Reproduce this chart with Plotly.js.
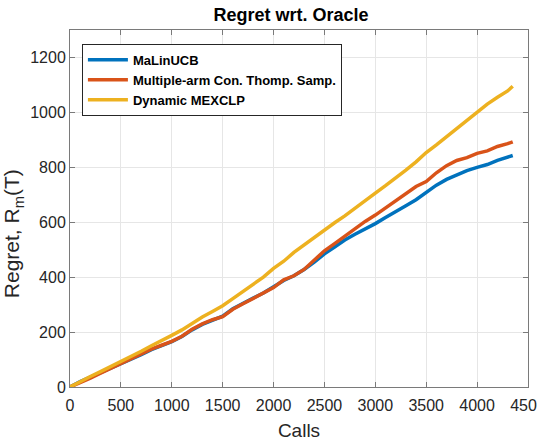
<!DOCTYPE html>
<html>
<head>
<meta charset="utf-8">
<script src="https://cdn.plot.ly/plotly-3.0.1.min.js"></script>
<style>
  html, body { margin: 0; padding: 0; background: #fff; }
  #chart { width: 537px; height: 441px; }
</style>
</head>
<body>
<div id="chart"></div>
<script>
// Number of calls at which cumulative regret was recorded
const calls = [0, 100, 200, 300, 400, 500, 600, 700, 800, 900, 1000, 1100, 1200, 1300, 1400,
  1500, 1600, 1700, 1800, 1900, 2000, 2100, 2200, 2300, 2400, 2500, 2600, 2700, 2800, 2900,
  3000, 3100, 3200, 3300, 3400, 3500, 3600, 3700, 3800, 3900, 4000, 4100, 4200, 4300, 4350];

// Cumulative regret of each policy against the oracle
const regretMaLinUCB = [0, 20, 36, 52, 68, 85, 102, 118, 136, 150, 165, 184, 208, 228, 244,
  258, 285, 306, 324, 342, 364, 388, 405, 428, 455, 485, 510, 535, 556, 575,
  595, 617, 640, 660, 682, 709, 735, 756, 772, 788, 800, 810, 825, 835, 843];

const regretThompson = [0, 15, 32, 50, 68, 87, 104, 120, 138, 152, 166, 185, 210, 230, 245,
  256, 283, 303, 322, 340, 362, 390, 405, 428, 460, 496, 522, 550, 578, 603,
  626, 652, 680, 703, 730, 748, 780, 806, 825, 835, 851, 860, 876, 886, 893];

const regretMexclp = [0, 20, 38, 56, 74, 94, 110, 130, 150, 168, 188, 208, 232, 255, 275,
  296, 322, 348, 374, 400, 432, 458, 490, 518, 545, 572, 598, 623, 652, 680,
  706, 733, 760, 790, 820, 854, 882, 912, 940, 970, 1004, 1030, 1055, 1078, 1095];

const seriesNames = ['MaLinUCB', 'Multiple-arm Con. Thomp. Samp.', 'Dynamic MEXCLP'];
const seriesColors = ['#0072BD', '#D95319', '#EDB120'];
const seriesValues = [regretMaLinUCB, regretThompson, regretMexclp];

const xTicks = [0, 500, 1000, 1500, 2000, 2500, 3000, 3500, 4000, 4500];
const yTicks = [0, 200, 400, 600, 800, 1000, 1200];

const FONT = 'Liberation Sans, Arial, sans-serif';

const traces = seriesValues.map((vals, i) => ({
  type: 'scatter',
  mode: 'lines',
  x: calls,
  y: vals,
  name: seriesNames[i],
  line: { color: seriesColors[i], width: 3.5 },
  hoverinfo: 'skip'
}));

const axisCommon = {
  showline: true,
  mirror: 'ticks',
  linecolor: '#7a7a7a',
  linewidth: 1,
  ticks: 'inside',
  ticklen: 5,
  tickcolor: '#7a7a7a',
  showgrid: true,
  gridcolor: '#e6e6e6',
  gridwidth: 1,
  zeroline: false,
  tickfont: { family: FONT, size: 16, color: '#262626' }
};

const layout = {
  width: 537,
  height: 441,
  margin: { l: 70, r: 9, t: 30, b: 54 },
  paper_bgcolor: '#ffffff',
  plot_bgcolor: '#ffffff',
  showlegend: true,
  title: {
    text: '<b>Regret wrt. Oracle</b>',
    x: 0.542,
    xanchor: 'center',
    y: 0.966,
    yanchor: 'middle',
    font: { family: FONT, size: 18, color: '#000000' }
  },
  xaxis: Object.assign({}, axisCommon, {
    range: [0, 4500],
    tickvals: xTicks,
    ticklabeloverflow: 'allow',
    ticklabelstandoff: 4,
    title: {
      text: 'Calls',
      standoff: 10,
      font: { family: FONT, size: 19, color: '#262626' }
    }
  }),
  yaxis: Object.assign({}, axisCommon, {
    range: [0, 1300],
    tickvals: yTicks
  }),
  annotations: [{
    text: 'Regret, R<sub>m</sub>(T)',
    xref: 'paper',
    yref: 'paper',
    x: -0.123,
    y: 0.43,
    xanchor: 'center',
    yanchor: 'middle',
    textangle: -90,
    showarrow: false,
    borderpad: 0,
    font: { family: FONT, size: 21, color: '#262626' }
  }],
  legend: {
    x: 0.026,
    y: 0.961,
    xanchor: 'left',
    yanchor: 'top',
    bgcolor: '#ffffff',
    bordercolor: '#262626',
    borderwidth: 1,
    tracegroupgap: 0,
    itemwidth: 40,
    font: { family: FONT, size: 13, color: '#000000', weight: 'bold' }
  }
};

Plotly.newPlot('chart', traces, layout, { staticPlot: true, displayModeBar: false });
</script>
</body>
</html>
